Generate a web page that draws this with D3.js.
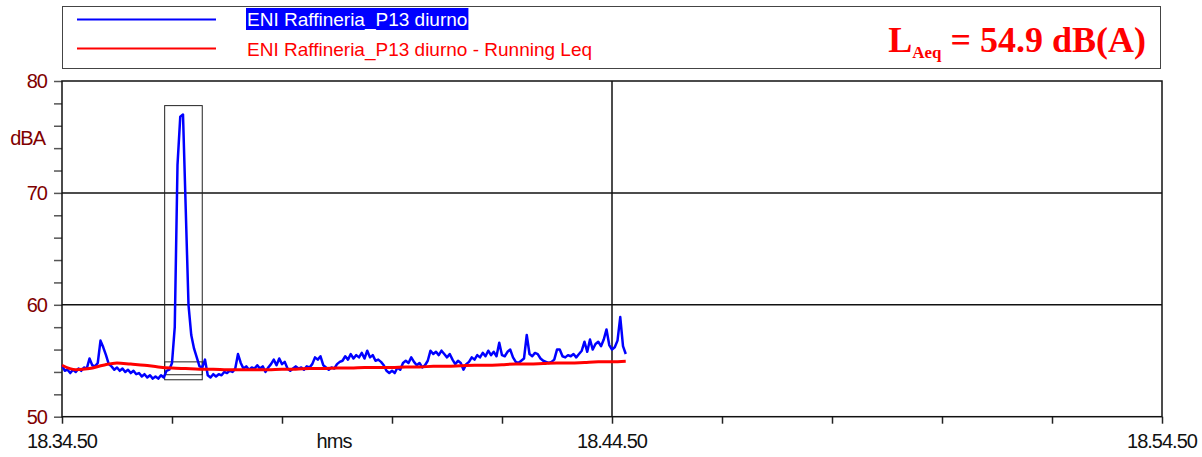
<!DOCTYPE html>
<html>
<head>
<meta charset="utf-8">
<script src="https://cdn.jsdelivr.net/npm/d3@7"></script>
<style>
  body { margin: 0; background: #fff; }
  svg { display: block; }
  text { font-family: "Liberation Sans", Arial, sans-serif; }
</style>
</head>
<body>
<svg width="1202" height="457"></svg>
<script>
// series: sound level (dBA), one value every 3 s from 18:34:50
const startTime = "18:34:50";
const endTime = "18:54:50";
const levelStep = 3;
const levels = [
  54.6, 54.1, 54.2, 53.9, 54.2, 54.0, 54.3, 54.1, 54.4, 54.3,
  55.2, 54.6, 54.5, 54.8, 56.8, 56.2, 55.5, 54.7, 54.5, 54.2,
  54.4, 54.1, 54.3, 54.0, 54.2, 53.9, 54.1, 53.8, 53.9, 53.6,
  53.8, 53.5, 53.7, 53.4, 53.6, 53.4, 53.7, 53.5, 54.1, 54.2,
  54.8, 58.0, 72.5, 76.8, 77.0, 68.5, 60.0, 57.3, 56.1, 55.3,
  54.5, 54.4, 55.1, 53.7, 53.5, 53.8, 53.6, 53.8, 53.7, 54.0,
  53.9, 54.1, 54.0, 54.3, 55.6, 54.8, 54.3, 54.5, 54.2, 54.4,
  54.3, 54.6, 54.3, 54.5, 54.0, 54.4, 54.7, 55.1, 54.6, 55.2,
  54.7, 54.9, 54.3, 54.1, 54.3, 54.5, 54.3, 54.4, 54.2, 54.5,
  54.4, 54.7, 55.3, 55.1, 55.4, 54.6, 54.4, 54.2, 54.4, 54.3,
  54.7, 54.9, 55.0, 55.4, 55.1, 55.6, 55.2, 55.5, 55.3, 55.7,
  55.2, 55.9, 55.3, 55.5, 55.0, 55.1, 54.9, 54.6, 54.1, 53.9,
  54.1, 53.9, 54.4, 54.2, 54.8, 55.0, 54.8, 55.3, 54.9, 54.6,
  54.8, 54.4, 54.6, 55.0, 55.9, 55.6, 55.8, 55.5, 55.9, 55.6,
  55.3, 55.6, 55.1, 54.7, 55.0, 54.8, 54.2, 54.7, 54.9, 55.3,
  55.1, 55.5, 55.3, 55.7, 55.4, 55.9, 55.5, 55.8, 55.4, 56.6,
  55.5, 55.4, 55.8, 56.0, 55.3, 54.9, 54.8, 55.0, 55.2, 57.3,
  55.6, 55.4, 55.7, 55.6, 55.2, 55.0, 54.9, 54.8, 54.9, 55.1,
  56.0, 56.0, 55.4, 55.3, 55.5, 55.4, 55.6, 55.3, 55.6, 55.9,
  56.7, 55.8, 56.9, 56.0, 56.5, 56.7, 56.3, 56.9, 57.8, 56.4,
  56.0, 56.2, 56.8, 58.9, 56.3, 55.6
];

// running Leq, one value every 15 s
const leqStep = 15;
const runningLeq = [
  54.6, 54.2, 54.3, 54.6, 54.8, 54.7, 54.6, 54.45, 54.35, 54.3,
  54.25, 54.25, 54.2, 54.2, 54.2, 54.2, 54.25, 54.25, 54.3, 54.3,
  54.35, 54.35, 54.4, 54.4, 54.4, 54.45, 54.45, 54.5, 54.5, 54.55,
  54.6, 54.6, 54.65, 54.7, 54.7, 54.75, 54.8, 54.8, 54.85, 54.9,
  54.9, 54.95
];

const yLabels = [50, 60, 70, 80];
const yGrid = [60, 70];
const xLabels = ["18:34:50", "18:44:50", "18:54:50"];
const xGrid = ["18:44:50"];
const xTickStep = 120; // seconds between x ticks
const seriesName = "ENI Raffineria_P13 diurno";
const leqName = "ENI Raffineria_P13 diurno - Running Leq";
const laeq = "54.9";

// event markers (start, end, top dB, bottom dB)
const eventBoxes = [
  ["18:36:42", "18:37:23", 77.8, 53.3],
  ["18:36:42", "18:37:23", 54.9, 53.75]
];

const parse = d3.timeParse("%H:%M:%S");
const t0 = parse(startTime);
const t1 = parse(endTime);
const sec = s => new Date(t0.getTime() + s * 1000);

const svg = d3.select("svg");
const pLeft = 62, pRight = 1162, pTop = 81, pBottom = 416.7;

const x = d3.scaleTime().domain([t0, t1]).range([pLeft, pRight]);
const y = d3.scaleLinear().domain([50, 80]).range([pBottom, pTop]);

// legend box
svg.append("rect")
  .attr("x", 62.5).attr("y", 6.5).attr("width", 1098).attr("height", 62)
  .attr("fill", "#fff").attr("stroke", "#444").attr("stroke-width", 1);

svg.append("line").attr("x1", 77).attr("x2", 216).attr("y1", 19.5).attr("y2", 19.5)
  .attr("stroke", "#0000ff").attr("stroke-width", 2);
svg.append("line").attr("x1", 77).attr("x2", 216).attr("y1", 48.5).attr("y2", 48.5)
  .attr("stroke", "#ff0000").attr("stroke-width", 2);

const lg1 = svg.append("text").attr("x", 247).attr("y", 26)
  .attr("font-size", 19).attr("fill", "#fff")
  .text(seriesName);
const bb = lg1.node().getBBox();
svg.insert("rect", "text")
  .attr("x", bb.x - 1).attr("y", 8).attr("width", bb.width + 2).attr("height", 22)
  .attr("fill", "#0000ff");

svg.append("text").attr("x", 247).attr("y", 56)
  .attr("font-size", 19).attr("fill", "#ff0000")
  .text(leqName);

const la = svg.append("text").attr("x", 1146).attr("y", 52)
  .attr("text-anchor", "end").attr("fill", "#ff0000")
  .style("font-family", "'Liberation Serif', 'Times New Roman', serif")
  .style("font-weight", "bold").attr("font-size", 36);
la.append("tspan").text("L");
la.append("tspan").attr("font-size", 17).attr("dy", 6).text("Aeq");
la.append("tspan").attr("dy", -6).text(" = " + laeq + " dB(A)");

// grid
svg.append("g").selectAll("line").data(yGrid).join("line")
  .attr("x1", pLeft).attr("x2", pRight)
  .attr("y1", d => y(d)).attr("y2", d => y(d))
  .attr("stroke", "#111").attr("stroke-width", 1.5);
svg.append("g").selectAll("line").data(xGrid).join("line")
  .attr("x1", d => x(parse(d))).attr("x2", d => x(parse(d)))
  .attr("y1", pTop).attr("y2", pBottom)
  .attr("stroke", "#111").attr("stroke-width", 1.5);

// axes
const yAxis = svg.append("g").attr("transform", `translate(${pLeft},0)`)
  .call(d3.axisLeft(y).tickValues(d3.range(50, 81, 2)).tickSize(8).tickFormat(""));
yAxis.select(".domain").remove();
yAxis.selectAll("line").attr("stroke", "#555").attr("stroke-width", 1.5);

svg.append("g").selectAll("text").data(yLabels).join("text")
  .attr("x", 47).attr("y", d => y(d) + 7)
  .attr("text-anchor", "end").attr("font-size", 20).attr("letter-spacing", "-1px")
  .attr("fill", "#800000").text(d => d);
svg.append("text").attr("x", 45).attr("y", 145).attr("text-anchor", "end")
  .attr("font-size", 20).attr("letter-spacing", "-1px").attr("fill", "#800000").text("dBA");

const xTicks = d3.range(0, (t1 - t0) / 1000 + 1, xTickStep).map(sec);
const xAxis = svg.append("g").attr("transform", `translate(0,${pBottom})`)
  .call(d3.axisBottom(x).tickValues(xTicks).tickSize(7).tickFormat(""));
xAxis.select(".domain").remove();
xAxis.selectAll("line").attr("stroke", "#222").attr("stroke-width", 1.5);

svg.append("g").selectAll("text").data(xLabels).join("text")
  .attr("x", d => x(parse(d))).attr("y", 448)
  .attr("text-anchor", "middle").attr("font-size", 20).attr("letter-spacing", "-1px")
  .attr("fill", "#111").text(d => d.replace(/:/g, "."));
svg.append("text").attr("x", 334).attr("y", 448).attr("text-anchor", "middle")
  .attr("font-size", 20).attr("letter-spacing", "-1px").attr("fill", "#111").text("hms");

// frame
svg.append("rect").attr("x", pLeft).attr("y", pTop)
  .attr("width", pRight - pLeft).attr("height", pBottom - pTop)
  .attr("fill", "none").attr("stroke", "#111").attr("stroke-width", 1.5);

// event boxes
svg.append("g").selectAll("rect").data(eventBoxes).join("rect")
  .attr("x", d => x(parse(d[0]))).attr("y", d => y(d[2]))
  .attr("width", d => x(parse(d[1])) - x(parse(d[0])))
  .attr("height", d => y(d[3]) - y(d[2]))
  .attr("fill", "none").attr("stroke", "#222").attr("stroke-width", 1);

// series
const line = d3.line().x(d => x(d[0])).y(d => y(d[1]));
svg.append("path")
  .datum(levels.map((v, i) => [sec(i * levelStep), v]))
  .attr("d", line).attr("fill", "none")
  .attr("stroke", "#0000ff").attr("stroke-width", 2.5).attr("stroke-linejoin", "round");

svg.append("path")
  .datum(runningLeq.map((v, i) => [sec(i * leqStep), v]))
  .attr("d", line.curve(d3.curveMonotoneX)).attr("fill", "none")
  .attr("stroke", "#ff0000").attr("stroke-width", 3);
</script>
</body>
</html>
